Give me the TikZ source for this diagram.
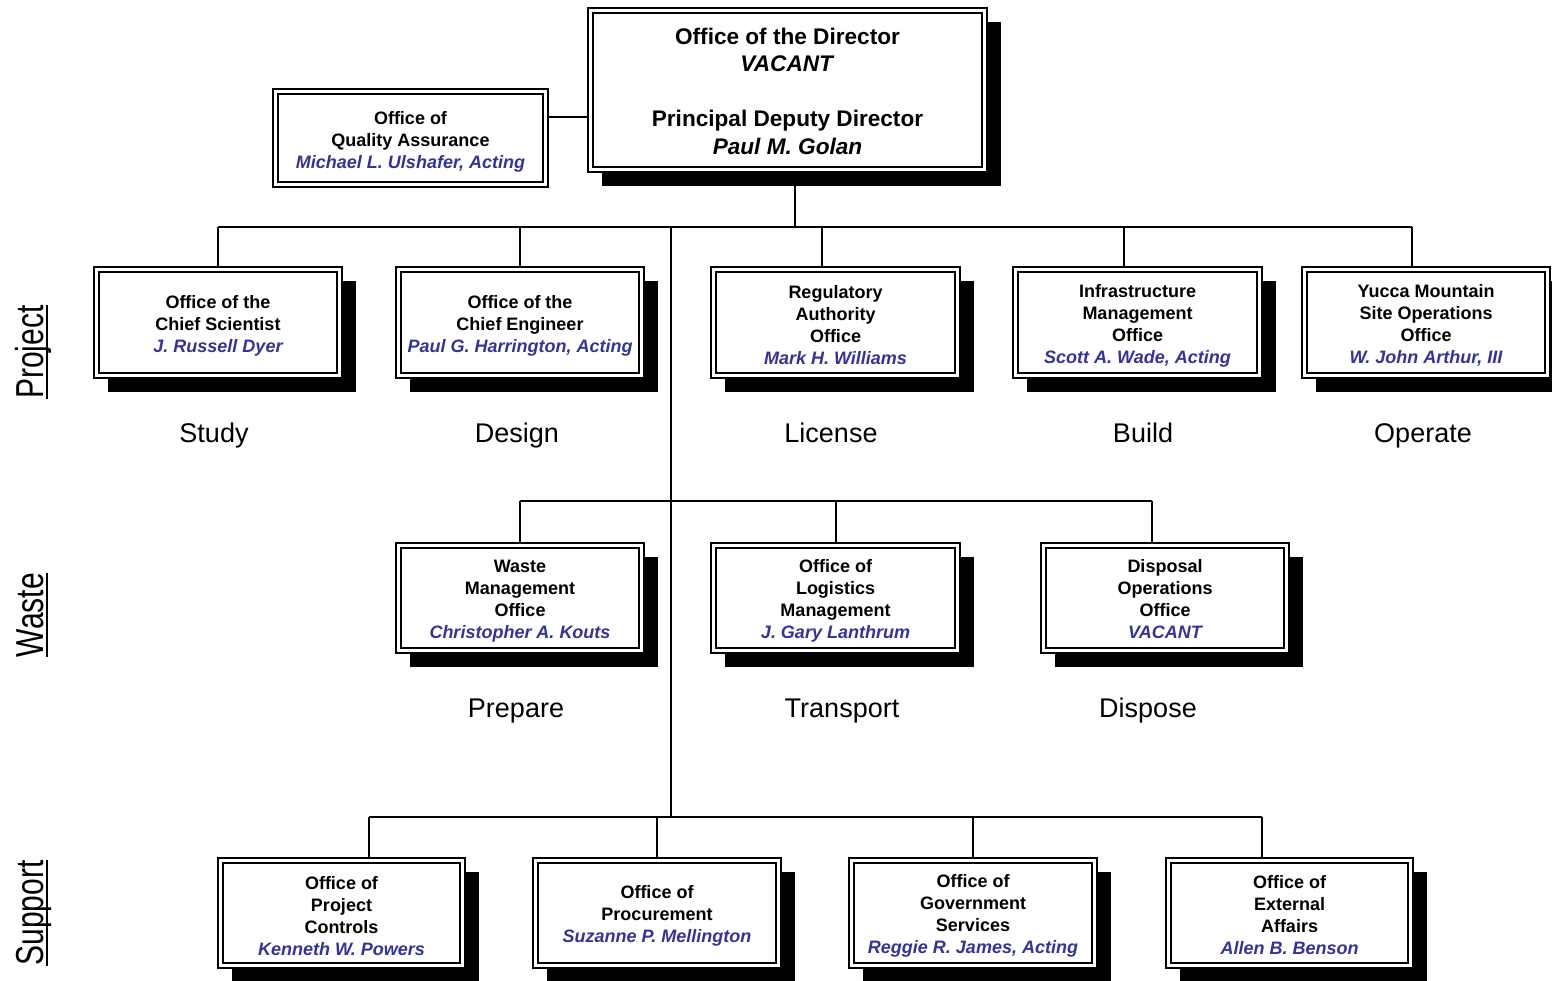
\documentclass[tikz,border=0pt]{standalone}
\usepackage{fontspec}
\setmainfont{Liberation Sans}
\usetikzlibrary{backgrounds}
\definecolor{nameblue}{RGB}{51,51,153}
\tikzset{
  conn/.style={draw=black, line width=1.4pt},
  outerframe/.style={draw=black, line width=2.6pt, fill=white},
  innerbox/.style={draw=black, line width=1.8pt, inner sep=0pt, outer sep=0pt},
  boxtext/.style={inner sep=0pt, align=center, font=\fontsize{18}{22}\selectfont\bfseries},
  stagelabel/.style={font=\fontsize{27}{30}\selectfont, inner sep=0pt, anchor=base},
  sidelabel/.style={font=\fontsize{39}{40}\selectfont, rotate=90, anchor=base, inner sep=0pt},
  sideline/.style={draw=black, line width=2pt},
}
\newcommand\nm[1]{{\color{nameblue}\itshape #1}}
% #1 extra text style, #2 name, #3 cx, #4 cy, #5 w, #6 h, #7 text
\newcommand\orgbox[7][]{%
  \fill[black] (#3-#5/2+14,#4-#6/2+14) rectangle (#3+#5/2+14,#4+#6/2+14);
  \draw[outerframe] (#3-#5/2,#4-#6/2) rectangle (#3+#5/2,#4+#6/2);
  \node[innerbox, minimum width=#5-10, minimum height=#6-10] (#2) at (#3,#4) {};
  \node[boxtext, yshift=-3pt, #1] (#2-text) at (#2.center) {#7};
}
\newcommand\flatbox[6]{%
  \draw[outerframe] (#2-#4/2,#3-#5/2) rectangle (#2+#4/2,#3+#5/2);
  \node[innerbox, minimum width=#4-10, minimum height=#5-10] (#1) at (#2,#3) {};
  \node[boxtext, yshift=-3.5pt] (#1-text) at (#1.center) {#6};
}
\begin{document}
\begin{tikzpicture}[x=1pt, y=-1pt]
\useasboundingbox (0,0) rectangle (1552,980);

% ---------- boxes ----------
\orgbox[font=\fontsize{22.6}{27.5}\selectfont\bfseries, yshift=2pt]{dir}{787.5}{90}{399}{164}%
  {Office of the Director\\ \textit{VACANT}\\[27.5pt] Principal Deputy Director\\ \textit{Paul M. Golan}}
\flatbox{qa}{410.5}{138}{275}{98}{Office of\\ Quality Assurance\\ \nm{Michael L. Ulshafer, Acting}}

\orgbox{cs}{218}{322.5}{248}{111}{Office of the\\ Chief Scientist\\ \nm{J. Russell Dyer}}
\orgbox{ce}{520}{322.5}{248}{111}{Office of the\\ Chief Engineer\\ \nm{Paul G. Harrington, Acting}}
\orgbox{reg}{835.5}{322.5}{249}{111}{Regulatory\\ Authority\\ Office\\ \nm{Mark H. Williams}}
\orgbox{inf}{1137.5}{322.5}{249}{111}{Infrastructure\\ Management\\ Office\\ \nm{Scott A. Wade, Acting}}
\orgbox{ym}{1426}{322.5}{248}{111}{Yucca Mountain\\ Site Operations\\ Office\\ \nm{W. John Arthur, III}}

\orgbox{wm}{520}{598}{248}{110}{Waste\\ Management\\ Office\\ \nm{Christopher A. Kouts}}
\orgbox{log}{835.5}{598}{249}{110}{Office of\\ Logistics\\ Management\\ \nm{J. Gary Lanthrum}}
\orgbox[yshift=2pt]{dis}{1165}{598}{248}{110}{Disposal\\ Operations\\ Office\\ \nm{VACANT}}

\orgbox{pc}{341.5}{913}{247}{110}{Office of\\ Project\\ Controls\\ \nm{Kenneth W. Powers}}
\orgbox{pro}{657}{913}{248}{110}{Office of\\ Procurement\\ \nm{Suzanne P. Mellington}}
\orgbox{gov}{973}{913}{248}{110}{Office of\\ Government\\ Services\\ \nm{Reggie R. James, Acting}}
\orgbox[yshift=1pt]{ext}{1289.5}{913}{247}{110}{Office of\\ External\\ Affairs\\ \nm{Allen B. Benson}}

% ---------- connectors ----------
\begin{scope}[on background layer]
  \coordinate (qay) at (0,117);
  \draw[conn] (qa.east |- qay) -- (dir.west |- qay);

  \coordinate (dtap) at (795,227);
  \coordinate (t1a) at (218,227);
  \coordinate (t1b) at (520,227);
  \coordinate (t1c) at (822,227);
  \coordinate (t1d) at (1124,227);
  \coordinate (t1e) at (1412,227);
  \coordinate (sp1) at (671,227);
  \coordinate (sp3) at (671,817);
  \draw[conn] (dtap |- dir.south) -- (dtap);
  \draw[conn] (t1a) -- (t1e);
  \draw[conn] (t1a) -- (t1a |- cs.north);
  \draw[conn] (t1b) -- (t1b |- ce.north);
  \draw[conn] (t1c) -- (t1c |- reg.north);
  \draw[conn] (t1d) -- (t1d |- inf.north);
  \draw[conn] (t1e) -- (t1e |- ym.north);
  \draw[conn] (sp1) -- (sp3);

  \coordinate (t2a) at (520,501);
  \coordinate (t2b) at (836,501);
  \coordinate (t2c) at (1152,501);
  \draw[conn] (t2a) -- (t2c);
  \draw[conn] (t2a) -- (t2a |- wm.north);
  \draw[conn] (t2b) -- (t2b |- log.north);
  \draw[conn] (t2c) -- (t2c |- dis.north);

  \coordinate (t3a) at (369,817);
  \coordinate (t3b) at (657,817);
  \coordinate (t3c) at (973,817);
  \coordinate (t3d) at (1262,817);
  \draw[conn] (t3a) -- (t3d);
  \draw[conn] (t3a) -- (t3a |- pc.north);
  \draw[conn] (t3b) -- (t3b |- pro.north);
  \draw[conn] (t3c) -- (t3c |- gov.north);
  \draw[conn] (t3d) -- (t3d |- ext.north);
\end{scope}

% ---------- stage labels ----------
\node[stagelabel] (lstudy) at (214,442) {Study};
\node[stagelabel] (ldesign) at (517,442) {Design};
\node[stagelabel] (llicense) at (831,442) {License};
\node[stagelabel] (lbuild) at (1143,442) {Build};
\node[stagelabel] (loperate) at (1423,442) {Operate};
\node[stagelabel] (lprepare) at (516,717) {Prepare};
\node[stagelabel] (ltransport) at (842,717) {Transport};
\node[stagelabel] (ldispose) at (1148,717) {Dispose};

% ---------- side labels ----------
\node[sidelabel] (sproject) at (43,352) {\scalebox{0.77}[1]{Project}};
\node[sidelabel] (swaste) at (43,615) {\scalebox{0.77}[1]{Waste}};
\node[sidelabel] (ssupport) at (43,913) {\scalebox{0.77}[1]{Support}};
\draw[sideline] ([xshift=4pt]sproject.base west) -- ([xshift=4pt]sproject.base east);
\draw[sideline] ([xshift=4pt]swaste.base west) -- ([xshift=4pt]swaste.base east);
\draw[sideline] ([xshift=4pt]ssupport.base west) -- ([xshift=4pt]ssupport.base east);
\end{tikzpicture}
\end{document}
